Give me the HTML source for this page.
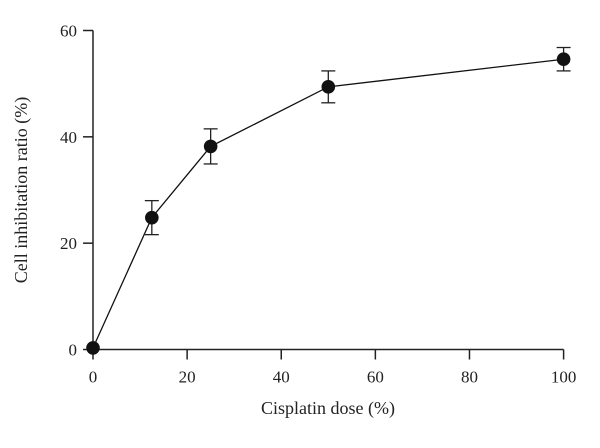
<!DOCTYPE html>
<html><head><meta charset="utf-8"><style>
body{margin:0;background:#fff}
svg text{font-family:"Liberation Serif",serif;fill:#222}
</style></head><body>
<svg id="c" width="600" height="443"></svg>
<script>
const doses=[0,12.5,25,50,100];
const ratios=[0.3,24.8,38.2,49.4,54.6];
const errors=[0,3.2,3.3,3,2.2];
const xTicks=[0,20,40,60,80,100];
const yTicks=[0,20,40,60];
const svg=document.getElementById('c');
const NS='http://www.w3.org/2000/svg';
const X=v=>93+v*(563.6-93)/100;
const Y=v=>349.5-v*(349.5-30.5)/60;
function mk(t,a,p){const e=document.createElementNS(NS,t);for(const k in a)e.setAttribute(k,a[k]);(p||svg).appendChild(e);return e;}
const ax=mk('g',{stroke:'#222','stroke-width':1.5,fill:'none'});


mk('line',{x1:X(0),y1:Y(60),x2:X(0),y2:Y(0)},ax);
mk('line',{x1:X(0),y1:Y(0),x2:X(100),y2:Y(0)},ax);
xTicks.forEach(t=>{mk('line',{x1:X(t),y1:Y(0),x2:X(t),y2:Y(0)+10},ax);
 const tx=mk('text',{x:X(t),y:Y(0)+33,'text-anchor':'middle','font-size':17});tx.textContent=t;
 
 });
yTicks.forEach(t=>{mk('line',{x1:X(0)-10,y1:Y(t),x2:X(0),y2:Y(t)},ax);
 const tx=mk('text',{x:X(0)-16,y:Y(t)+6,'text-anchor':'end','font-size':17});tx.textContent=t;
 
 });
const xt=mk('text',{x:328,y:414,'text-anchor':'middle','font-size':18});xt.textContent='Cisplatin dose (%)';


const yt=mk('text',{x:0,y:0,'text-anchor':'middle','font-size':18,transform:'translate(27,190) rotate(-90)'});yt.textContent='Cell inhibitation ratio (%)';


const ln=mk('polyline',{points:doses.map((d,i)=>X(d)+','+Y(ratios[i])).join(' '),fill:'none',stroke:'#111','stroke-width':1.3});


doses.forEach((d,i)=>{
 if(errors[i]>0){const g=mk('g',{stroke:'#222','stroke-width':1.3});
  
  
  const x=X(d),a=Y(ratios[i]+errors[i]),b=Y(ratios[i]-errors[i]);
  mk('line',{x1:x,y1:a,x2:x,y2:b},g);mk('line',{x1:x-7,y1:a,x2:x+7,y2:a},g);mk('line',{x1:x-7,y1:b,x2:x+7,y2:b},g);}
 const c=mk('circle',{cx:X(d),cy:Y(ratios[i]),r:6.8,fill:'#111'});
 
 
});
</script>
</body></html>
